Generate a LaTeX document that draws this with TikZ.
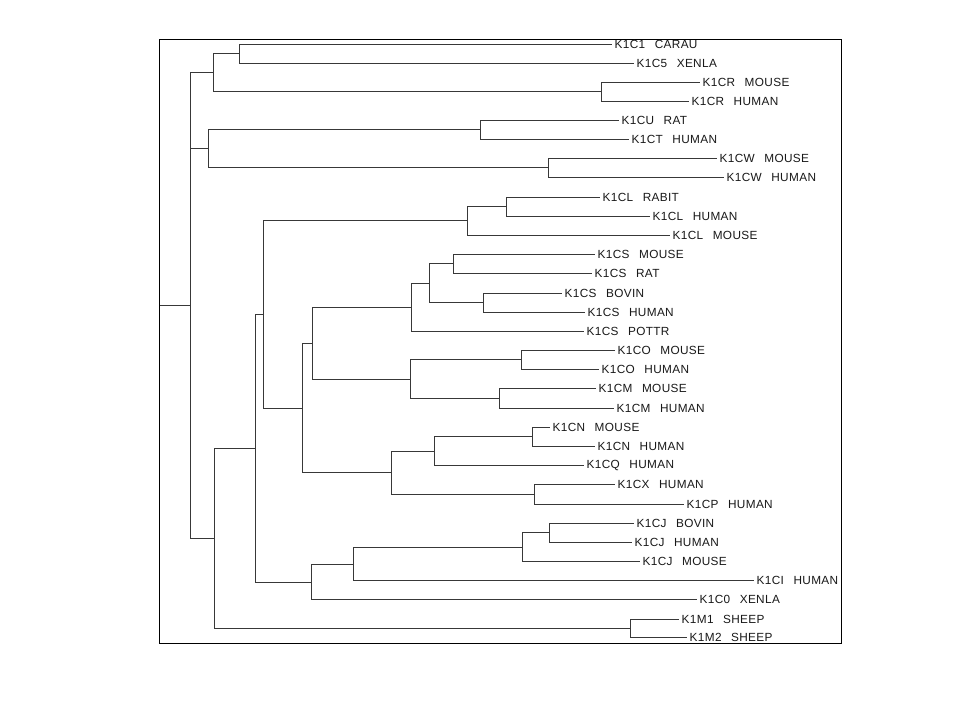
\documentclass[tikz,border=0pt]{standalone}
\usepackage{fontspec}
\setmainfont{Liberation Sans}
\newcommand\wgap{\hspace{9.5pt}}
\begin{document}
\begin{tikzpicture}[x=1pt,y=-1pt,
  branch/.style={draw=black!78,line width=1.5pt},
  frame/.style={draw=black,line width=1.5pt},
  leaf/.style={anchor=west,inner xsep=3pt,inner ysep=0pt,text=black!90,font=\fontsize{11.8}{11.8}\selectfont\addfontfeatures{LetterSpace=3}}]
\useasboundingbox (0,0) rectangle (960,720);
\fill[white] (0,0) rectangle (960,720);
\draw[frame] (159.5,39.5) rectangle (841.5,643.5);
% leaves
\node[leaf] (l1)  at (611.5,44.5)  {K1C1\wgap CARAU};
\node[leaf] (l2)  at (633.5,63.5)  {K1C5\wgap XENLA};
\node[leaf] (l3)  at (699.5,82.5)  {K1CR\wgap MOUSE};
\node[leaf] (l4)  at (688.5,101.5) {K1CR\wgap HUMAN};
\node[leaf] (l5)  at (618.5,120.5) {K1CU\wgap RAT};
\node[leaf] (l6)  at (628.5,139.5) {K1CT\wgap HUMAN};
\node[leaf] (l7)  at (716.5,158.5) {K1CW\wgap MOUSE};
\node[leaf] (l8)  at (723.5,177.5) {K1CW\wgap HUMAN};
\node[leaf] (l9)  at (599.5,197.5) {K1CL\wgap RABIT};
\node[leaf] (l10) at (649.5,216.5) {K1CL\wgap HUMAN};
\node[leaf] (l11) at (669.5,235.5) {K1CL\wgap MOUSE};
\node[leaf] (l12) at (594.5,254.5) {K1CS\wgap MOUSE};
\node[leaf] (l13) at (591.5,273.5) {K1CS\wgap RAT};
\node[leaf] (l14) at (561.5,293.5) {K1CS\wgap BOVIN};
\node[leaf] (l15) at (584.5,312.5) {K1CS\wgap HUMAN};
\node[leaf] (l16) at (583.5,331.5) {K1CS\wgap POTTR};
\node[leaf] (l17) at (614.5,350.5) {K1CO\wgap MOUSE};
\node[leaf] (l18) at (598.5,369.5) {K1CO\wgap HUMAN};
\node[leaf] (l19) at (595.5,388.5) {K1CM\wgap MOUSE};
\node[leaf] (l20) at (613.5,408.5) {K1CM\wgap HUMAN};
\node[leaf] (l21) at (549.5,427.5) {K1CN\wgap MOUSE};
\node[leaf] (l22) at (594.5,446.5) {K1CN\wgap HUMAN};
\node[leaf] (l23) at (583.5,465.5) {K1CQ\wgap HUMAN};
\node[leaf] (l24) at (614.5,484.5) {K1CX\wgap HUMAN};
\node[leaf] (l25) at (683.5,504.5) {K1CP\wgap HUMAN};
\node[leaf] (l26) at (633.5,523.5) {K1CJ\wgap BOVIN};
\node[leaf] (l27) at (631.5,542.5) {K1CJ\wgap HUMAN};
\node[leaf] (l28) at (639.5,561.5) {K1CJ\wgap MOUSE};
\node[leaf] (l29) at (753.5,580.5) {K1CI\wgap HUMAN};
\node[leaf] (l30) at (696.5,599.5) {K1C0\wgap XENLA};
\node[leaf] (l31) at (678.5,619.5) {K1M1\wgap SHEEP};
\node[leaf] (l32) at (686.5,637.5) {K1M2\wgap SHEEP};
% internal nodes
\coordinate (nA)   at (239.5,53.5);
\coordinate (nCR)  at (601.5,91.5);
\coordinate (nB)   at (213.5,72.5);
\coordinate (nCU)  at (480.5,129.5);
\coordinate (nCW)  at (548.5,167.5);
\coordinate (nD)   at (208.5,148.5);
\coordinate (nCLa) at (506.5,206.5);
\coordinate (nCL)  at (467.5,220.5);
\coordinate (nCSa) at (453.5,263.5);
\coordinate (nCSb) at (483.5,302.5);
\coordinate (nCSm) at (429.5,283.5);
\coordinate (nCS)  at (411.5,307.5);
\coordinate (nCO)  at (521.5,359.5);
\coordinate (nCM)  at (499.5,398.5);
\coordinate (nP)   at (410.5,379.5);
\coordinate (nK)   at (312.5,343.5);
\coordinate (nCN)  at (532.5,436.5);
\coordinate (nR)   at (434.5,451.5);
\coordinate (nT)   at (534.5,494.5);
\coordinate (nQ)   at (391.5,472.5);
\coordinate (nJ)   at (302.5,408.5);
\coordinate (nI)   at (263.5,314.5);
\coordinate (nCJa) at (549.5,532.5);
\coordinate (nCJ)  at (522.5,547.5);
\coordinate (nH)   at (353.5,564.5);
\coordinate (nG)   at (311.5,582.5);
\coordinate (nF)   at (255.5,448.5);
\coordinate (nSh)  at (630.5,628.5);
\coordinate (nE)   at (214.5,538.5);
\coordinate (nRoot) at (190.5,305.5);
\coordinate (rootin) at (159.5,305.5);
% branches
\draw[branch] (nA) |- (l1.west);
\draw[branch] (nA) |- (l2.west);
\draw[branch] (nCR) |- (l3.west);
\draw[branch] (nCR) |- (l4.west);
\draw[branch] (nB) |- (nA);
\draw[branch] (nB) |- (nCR);
\draw[branch] (nCU) |- (l5.west);
\draw[branch] (nCU) |- (l6.west);
\draw[branch] (nCW) |- (l7.west);
\draw[branch] (nCW) |- (l8.west);
\draw[branch] (nD) |- (nCU);
\draw[branch] (nD) |- (nCW);
\draw[branch] (nCLa) |- (l9.west);
\draw[branch] (nCLa) |- (l10.west);
\draw[branch] (nCL) |- (nCLa);
\draw[branch] (nCL) |- (l11.west);
\draw[branch] (nCSa) |- (l12.west);
\draw[branch] (nCSa) |- (l13.west);
\draw[branch] (nCSb) |- (l14.west);
\draw[branch] (nCSb) |- (l15.west);
\draw[branch] (nCSm) |- (nCSa);
\draw[branch] (nCSm) |- (nCSb);
\draw[branch] (nCS) |- (nCSm);
\draw[branch] (nCS) |- (l16.west);
\draw[branch] (nCO) |- (l17.west);
\draw[branch] (nCO) |- (l18.west);
\draw[branch] (nCM) |- (l19.west);
\draw[branch] (nCM) |- (l20.west);
\draw[branch] (nP) |- (nCO);
\draw[branch] (nP) |- (nCM);
\draw[branch] (nK) |- (nCS);
\draw[branch] (nK) |- (nP);
\draw[branch] (nCN) |- (l21.west);
\draw[branch] (nCN) |- (l22.west);
\draw[branch] (nR) |- (nCN);
\draw[branch] (nR) |- (l23.west);
\draw[branch] (nT) |- (l24.west);
\draw[branch] (nT) |- (l25.west);
\draw[branch] (nQ) |- (nR);
\draw[branch] (nQ) |- (nT);
\draw[branch] (nJ) |- (nK);
\draw[branch] (nJ) |- (nQ);
\draw[branch] (nI) |- (nCL);
\draw[branch] (nI) |- (nJ);
\draw[branch] (nCJa) |- (l26.west);
\draw[branch] (nCJa) |- (l27.west);
\draw[branch] (nCJ) |- (nCJa);
\draw[branch] (nCJ) |- (l28.west);
\draw[branch] (nH) |- (nCJ);
\draw[branch] (nH) |- (l29.west);
\draw[branch] (nG) |- (nH);
\draw[branch] (nG) |- (l30.west);
\draw[branch] (nF) |- (nI);
\draw[branch] (nF) |- (nG);
\draw[branch] (nSh) |- (l31.west);
\draw[branch] (nSh) |- (l32.west);
\draw[branch] (nE) |- (nF);
\draw[branch] (nE) |- (nSh);
\draw[branch] (nRoot) |- (nB);
\draw[branch] (nRoot) |- (nD);
\draw[branch] (nRoot) |- (nE);
\draw[branch] (rootin) -- (nRoot);
\end{tikzpicture}
\end{document}
